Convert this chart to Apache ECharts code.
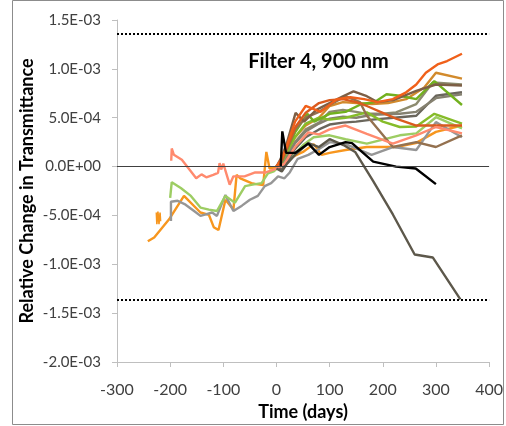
<!DOCTYPE html>
<html>
<head>
<meta charset="utf-8">
<script src="https://cdn.jsdelivr.net/npm/echarts@6/dist/echarts.min.js"></script>
<style>
html,body{margin:0;padding:0;background:#fff;}
#chart{width:506px;height:426px;}
</style>
</head>
<body>
<div id="chart"></div>
<script>
// values in units of 1E-04 (relative change), x in days
var xTicks = [-300, -200, -100, 0, 100, 200, 300, 400];
var yTicks = [-20, -15, -10, -5, 0, 5, 10, 15];
var yTickLabels = ['-2.0E-03', '-1.5E-03', '-1.0E-03', '-5.0E-04', '0.0E+00', '5.0E-04', '1.0E-03', '1.5E-03'];
var limitLevel = 13.6;

var sOrangeRed = [[0,0],[10,0.8],[20,2.2],[35,4.6],[55,6.2],[83,5.6],[114,6.9],[139,7.1],[165,6.9],[190,6.6],[219,6.9],[244,7.6],[263,8.4],[281,9.6],[303,10.45],[321,10.8],[349,11.55]];
var sDarkGold = [[0,0],[10,0.5],[20,1.5],[35,3.0],[55,4.2],[80,5.0],[100,6.2],[125,6.6],[150,6.5],[180,6.4],[210,6.5],[244,6.9],[278,8.1],[300,9.6],[349,9.0]];
var sDarkBrown = [[0,0],[10,1.0],[20,2.5],[36,5.5],[52,4.6],[75,5.8],[100,6.5],[125,7.2],[145,7.7],[170,7.2],[190,6.6],[220,6.8],[263,7.75],[300,8.4],[349,8.3]];
var sOliveGray = [[0,0],[10,0.3],[20,1.2],[35,2.5],[55,3.8],[80,4.5],[100,5.6],[125,5.8],[150,5.6],[170,5.4],[200,5.4],[225,5.55],[263,6.4],[294,8.6],[349,8.4]];
var sGreen = [[0,0],[10,0.6],[20,1.8],[35,3.5],[58,5.4],[71,4.6],[100,5.4],[130,5.6],[160,6.4],[185,6.6],[207,7.4],[232,7.25],[263,6.9],[297,8.75],[349,6.3]];
var sDarkGray = [[0,0],[10,-0.3],[20,0.5],[35,1.8],[55,3.0],[80,3.8],[100,4.3],[125,4.5],[150,4.6],[180,4.8],[232,5.05],[263,5.2],[300,7.25],[349,7.6]];
var sGrayOlive = [[0,0],[10,0.2],[20,1.0],[35,2.4],[55,3.6],[80,4.4],[100,4.9],[125,5.1],[150,5.0],[180,5.3],[232,5.4],[263,5.6],[300,7.0],[349,7.4]];
var sGreen2 = [[0,0],[10,0.4],[20,1.5],[35,3.0],[55,4.4],[80,5.0],[100,4.8],[130,5.0],[170,5.55],[200,4.6],[232,4.05],[263,4.1],[297,5.4],[349,4.4]];
var sLightGreen = [[-200,-3.2],[-197,-1.6],[-180,-2.2],[-161,-3.0],[-143,-4.2],[-127,-4.4],[-112,-4.55],[-96,-3.0],[-78,-3.7],[-59,-2.0],[-45,-1.85],[-28,-1.7],[-16,-0.7],[-5,-0.5],[5,0],[15,0.5],[30,1.0],[50,2.2],[70,3.0],[100,3.2],[130,2.8],[170,2.35],[232,3.2],[263,3.4],[300,5.05],[349,3.9]];
var sOrange = [[-242,-7.65],[-230,-7.25],[-202,-5.4],[-174,-3.0],[-143,-4.7],[-127,-4.95],[-118,-6.2],[-109,-6.5],[-96,-3.4],[-81,-4.4],[-75,-0.85],[-68,-1.2],[-47,-1.7],[-38,-1.8],[-25,-1.9],[-19,1.5],[-13,-0.2],[-5,-0.1],[5,-0.1],[15,0.3],[30,1.0],[50,1.5],[70,2.3],[85,1.2],[100,1.4],[130,1.7],[170,2.0],[225,2.0],[262,2.4],[300,3.55],[349,4.2]];
var sOrangeStub = [[-226,-4.7],[-225,-5.9],[-223,-4.6],[-221,-5.9],[-219,-4.7],[-218,-5.6]];
var sSalmon = [[-198,0.6],[-197,1.85],[-193,1.2],[-178,0.7],[-163,-0.35],[-151,-1.2],[-141,-0.8],[-132,-1.1],[-119,-0.85],[-110,-0.65],[-107,0.35],[-104,-0.3],[-100,0.3],[-88,-1.85],[-81,-1.0],[-60,-1.0],[-40,-0.6],[-20,-0.6],[0,-0.2],[15,0.3],[35,2.0],[60,3.5],[80,3.3],[100,3.8],[130,4.2],[170,3.35],[219,2.35],[263,3.2],[300,4.05],[349,3.4]];
var sGray = [[-198.5,-5.56],[-198.5,-3.6],[-186,-3.5],[-171,-3.9],[-155,-4.55],[-143,-5.05],[-133,-4.9],[-121,-4.7],[-112,-5.05],[-96,-2.9],[-81,-4.55],[-65,-4.0],[-50,-3.4],[-35,-3.0],[-22,-2.0],[-10,-1.7],[3,-1.0],[15,-1.2],[25,-0.6],[40,0.8],[60,1.2],[80,1.8],[100,2.5],[130,2.3],[179,1.2],[219,2.0],[263,1.7],[300,4.55],[349,3.0]];
var sLightBrown = [[0,0],[10,0.5],[20,1.8],[35,3.8],[55,5.0],[80,5.6],[100,6.3],[130,7.2],[157,6.6],[170,5.2],[219,2.0],[263,2.5],[300,2.0],[349,3.2]];
var sRedOrange = [[0,0],[10,0.7],[20,2.0],[35,4.0],[55,5.5],[80,6.5],[100,6.8],[125,6.9],[150,6.6],[170,6.2],[200,5.5],[225,4.9],[263,4.2],[300,4.2],[349,4.2]];
var sFalling = [[0,-0.2],[10,-0.5],[20,0.3],[35,1.2],[60,2.4],[80,2.0],[100,2.8],[126,2.2],[148,1.5],[182,-1.5],[219,-4.9],[260,-9.0],[294,-9.3],[346,-13.6]];
var sBlack = [[8,0],[11,3.6],[18,1.4],[35,1.4],[60,2.35],[80,1.2],[100,2.0],[130,2.5],[142,2.4],[182,0.5],[225,0],[262,-0.2],[300,-1.8]];

var seriesList = [
  {d: sOrangeStub, c: '#F7961E', w: 1.6},
  {d: sOrange, c: '#F7961E'},
  {d: sGray, c: '#969696'},
  {d: sLightGreen, c: '#9DCD63'},
  {d: sDarkGold, c: '#D28A2C'},
  {d: sOliveGray, c: '#8C8B6F'},
  {d: sDarkGray, c: '#6A665C'},
  {d: sGrayOlive, c: '#858170'},
  {d: sGreen2, c: '#86BC2A'},
  {d: sGreen, c: '#72B01E'},
  {d: sLightBrown, c: '#94714F'},
  {d: sDarkBrown, c: '#7D5F45'},
  {d: sRedOrange, c: '#DA5A1E'},
  {d: sOrangeRed, c: '#F0601A'},
  {d: sSalmon, c: '#FF8A6E'},
  {d: sFalling, c: '#5D584B'},
  {d: sBlack, c: '#000000'}
];

var FONT = 'Lato';
var chart = echarts.init(document.getElementById('chart'), null, {renderer: 'canvas'});

var series = seriesList.map(function (s) {
  return {
    type: 'line', data: s.d, showSymbol: false, symbol: 'none', silent: true,
    lineStyle: {color: s.c, width: s.w || 2.4}, animation: false, z: 3
  };
});
series.push({
  type: 'line', data: [], silent: true, animation: false, z: 2,
  markLine: {
    silent: true, symbol: 'none', label: {show: false}, animation: false,
    data: [
      {yAxis: 0, lineStyle: {color: '#404040', width: 1, type: 'solid'}},
      {yAxis: limitLevel, lineStyle: {color: '#000', width: 2, type: [2, 2]}},
      {yAxis: -limitLevel, lineStyle: {color: '#000', width: 2, type: [2, 2]}}
    ]
  }
});

chart.setOption({
  animation: false,
  backgroundColor: '#fff',
  grid: {left: 117, right: 12, top: 20, bottom: 60},
  xAxis: {
    type: 'value', min: xTicks[0], max: xTicks[xTicks.length - 1], interval: 100,
    axisLine: {onZero: false, lineStyle: {color: '#BFBFBF'}},
    axisTick: {show: true, inside: false, length: 5, lineStyle: {color: '#BFBFBF'}},
    splitLine: {show: false},
    axisLabel: {color: '#404040', fontSize: 16, fontFamily: FONT, margin: 20},
    name: 'Time (days)', nameLocation: 'middle', nameGap: 41, nameMoveOverlap: false,
    nameTextStyle: {color: '#000', fontSize: 18, fontWeight: 'bold', fontFamily: FONT}
  },
  yAxis: {
    type: 'value', min: yTicks[0], max: yTicks[yTicks.length - 1], interval: 5,
    axisLine: {show: true, onZero: false, lineStyle: {color: '#BFBFBF'}},
    axisTick: {show: true, inside: false, length: 5, lineStyle: {color: '#BFBFBF'}},
    splitLine: {show: false},
    axisLabel: {
      color: '#404040', fontSize: 15, fontFamily: FONT, margin: 16,
      formatter: function (v) {
        var i = yTicks.indexOf(Math.round(v));
        return i >= 0 ? yTickLabels[i] : '';
      }
    },
    name: 'Relative Change in Transmittance', nameLocation: 'middle', nameGap: 81, nameMoveOverlap: false,
    nameTextStyle: {color: '#000', fontSize: 18, fontWeight: 'bold', fontFamily: FONT}
  },
  graphic: [
    {type: 'rect', shape: {x: 12.5, y: 0.5, width: 491, height: 424}, style: {fill: 'none', stroke: '#8C8C8C', lineWidth: 1}, silent: true, z: 0},
    {type: 'text', x: 318.5, y: 62, style: {text: 'Filter 4, 900 nm', font: 'bold 20px ' + FONT, fill: '#000', textAlign: 'center', textVerticalAlign: 'middle'}, silent: true, z: 10}
  ],
  series: series
});
</script>
</body>
</html>
